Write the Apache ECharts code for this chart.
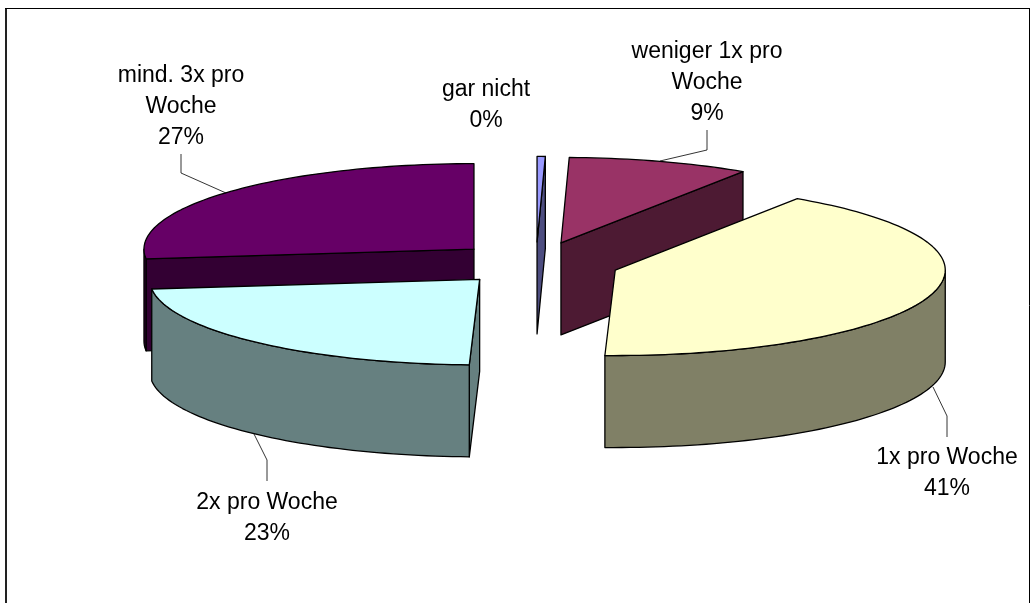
<!DOCTYPE html>
<html>
<head>
<meta charset="utf-8">
<style>html,body{margin:0;padding:0;background:#fff}#c{width:1036px;height:603px}</style>
<script src="https://cdn.jsdelivr.net/npm/echarts@6/dist/echarts.min.js"></script>
</head>
<body>
<div id="c"></div>
<script>
// Data (clockwise from 12 o'clock)
var categories = ['gar nicht', 'weniger 1x pro Woche', '1x pro Woche', '2x pro Woche', 'mind. 3x pro Woche'];
var shares = [0.4, 8.9, 41.2, 22.7, 26.8];

// Styles
var topColors = ['#9999FF', '#993366', '#FFFFCC', '#CCFFFF', '#660066'];
var sideColors = ['#4D4D80', '#4D1A33', '#808066', '#668080', '#330033'];

// Labels: wrapped lines, anchor of the first line, leader polyline
var labelLines = [['gar nicht'], ['weniger 1x pro', 'Woche'], ['1x pro Woche'], ['2x pro Woche'], ['mind. 3x pro', 'Woche']];
var labelAnchors = [[486, 90], [707, 52], [947, 458], [267, 503], [181, 76]];
var leaders = [null,
  [[707, 130], [707, 150], [660, 161]],
  [[933, 387], [947, 416], [947, 437]],
  [[254, 434], [267, 460], [267, 481]],
  [[181, 154], [181, 173], [226, 193]]];

// Projection of the tilted pie
var CX = 536, CY = 263.5, RX = 330, RY = 85.5, DEPTH = 92, EXPLODE = 0.252;
var LINE_H = 31, FONT = '23px "Liberation Sans", Arial, sans-serif';

var total = shares.reduce(function (a, b) { return a + b; }, 0);
var rows = [], acc = 0;
shares.forEach(function (v, i) { rows.push([i, v, acc]); acc += v; });

function rim(cx, cy, deg) {
  var t = deg * Math.PI / 180;
  return [cx + RX * Math.sin(t), cy - RY * Math.cos(t)];
}
function arc(cx, cy, a, b) {
  var pts = [], n = Math.max(2, Math.ceil(Math.abs(b - a) / 1.5));
  for (var i = 0; i <= n; i++) pts.push(rim(cx, cy, a + (b - a) * i / n));
  return pts;
}
function down(p) { return [p[0], p[1] + DEPTH]; }

function renderItem(params, api) {
  var i = api.value(0), v = api.value(1), start = api.value(2);
  var a = start / total * 360, b = (start + v) / total * 360, mid = (a + b) / 2;
  var m = rim(0, 0, mid);
  var cx = CX + m[0] * EXPLODE, cy = CY + m[1] * EXPLODE;
  var apex = [cx, cy];
  var base = 100 + Math.round(-Math.cos(mid * Math.PI / 180) * 50) * 10;
  var stroke = { stroke: '#000', lineWidth: 1.3, lineJoin: 'round' };
  function face(pts, fill, z) {
    return { type: 'polygon', z2: base + z, shape: { points: pts },
      style: Object.assign({ fill: fill }, stroke) };
  }
  function cut(d) {
    var p = rim(cx, cy, d);
    return face([apex, p, down(p), down(apex)], sideColors[i], 0);
  }
  var kids = [];
  // Only the radial faces that turn towards the viewer
  if (Math.sin(a * Math.PI / 180) < 0) kids.push(cut(a));
  if (Math.sin(b * Math.PI / 180) > 0) kids.push(cut(b));
  var wa = Math.max(a, 90), wb = Math.min(b, 270);
  if (wb > wa) {
    var arcTop = arc(cx, cy, wa, wb);
    kids.push(face(arcTop.concat(arcTop.map(down).reverse()), sideColors[i], 1));
  }
  kids.push(face([apex].concat(arc(cx, cy, a, b)), topColors[i], 2));

  var pct = Math.round(v / total * 100) + '%';
  labelLines[i].concat([pct]).forEach(function (s, k) {
    kids.push({ type: 'text', z2: 900, style: {
      text: s, x: labelAnchors[i][0], y: labelAnchors[i][1] + k * LINE_H,
      align: 'center', verticalAlign: 'middle', font: FONT, fill: '#000' } });
  });
  if (leaders[i]) {
    kids.push({ type: 'polyline', z2: 890, shape: { points: leaders[i] },
      style: { stroke: '#000', lineWidth: 0.8, fill: null } });
  }
  return { type: 'group', children: kids };
}

var chart = echarts.init(document.getElementById('c'), null, { renderer: 'canvas' });
chart.setOption({
  animation: false,
  backgroundColor: '#fff',
  graphic: [
    { type: 'line', silent: true, shape: { x1: 6, y1: 8, x2: 6, y2: 603 }, style: { stroke: '#222', lineWidth: 2 } },
    { type: 'line', silent: true, shape: { x1: 5, y1: 8.5, x2: 1029, y2: 8.5 }, style: { stroke: '#000', lineWidth: 1 } },
    { type: 'line', silent: true, shape: { x1: 1029.5, y1: 8, x2: 1029.5, y2: 603 }, style: { stroke: '#000', lineWidth: 1 } }
  ],
  series: [{
    type: 'custom',
    coordinateSystem: 'none',
    silent: true,
    data: rows,
    renderItem: renderItem
  }]
});
</script>
</body>
</html>
